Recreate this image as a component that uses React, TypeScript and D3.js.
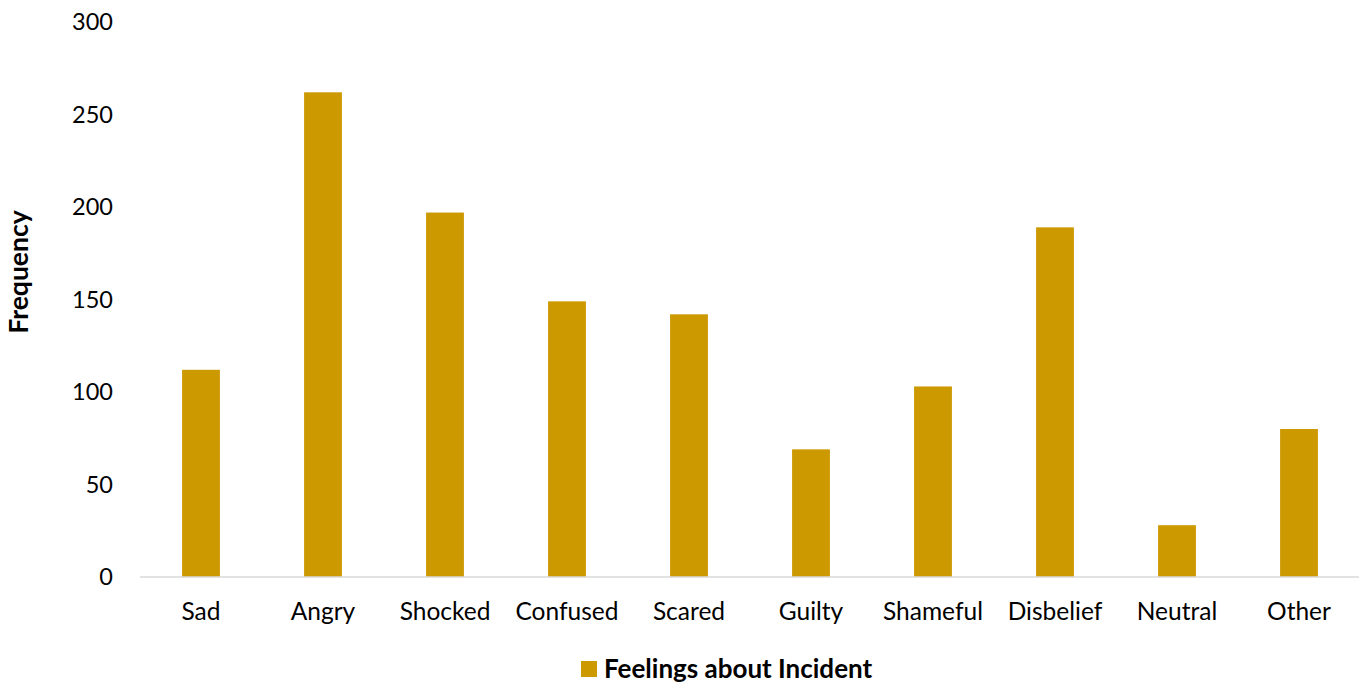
import React from "react";
import * as d3 from "d3";

const categories = ["Sad", "Angry", "Shocked", "Confused", "Scared", "Guilty", "Shameful", "Disbelief", "Neutral", "Other"];
const frequencies = [112, 262, 197, 149, 142, 69, 103, 189, 28, 80];
const yTicks = [0, 50, 100, 150, 200, 250, 300];
const seriesName = "Feelings about Incident";
const axisTitle = "Frequency";

const W = 1359;
const H = 684;
const FONT = "Lato, 'Open Sans', sans-serif";
const BAR = "#CC9900";

export default function App() {
  const x = d3.scaleBand<string>().domain(categories).range([140, 1360]).paddingInner(0.69).paddingOuter(0.345);
  const y = d3.scaleLinear().domain([0, 300]).range([577, 22]);

  return (
    <svg width={W} height={H} style={{ position: "absolute", left: 0, top: 0, background: "#fff" }}>
      {yTicks.map((t) => (
        <text key={t} x={113} y={y(t)} dy="0.36em" textAnchor="end" fontFamily={FONT} fontSize={23.5} fill="#000">
          {t}
        </text>
      ))}
      {categories.map((c, i) => (
        <rect key={c} x={x(c)} y={y(frequencies[i])} width={x.bandwidth()} height={y(0) - y(frequencies[i])} fill={BAR} />
      ))}
      <line x1={140} x2={1360} y1={y(0)} y2={y(0)} stroke="#d9d9d9" strokeWidth={1.5} />
      {categories.map((c) => (
        <text key={c} x={(x(c) ?? 0) + x.bandwidth() / 2} y={620} textAnchor="middle" fontFamily={FONT} fontSize={24.5} fill="#000">
          {c}
        </text>
      ))}
      <text transform={`translate(28,272) rotate(-90)`} textAnchor="middle" fontFamily={FONT} fontWeight="bold" fontSize={26.5} fill="#000">
        {axisTitle}
      </text>
      <rect x={581} y={661} width={16} height={16} fill={BAR} />
      <text x={604} y={669} dy="0.36em" fontFamily={FONT} fontWeight="bold" fontSize={26} fill="#000">
        {seriesName}
      </text>
    </svg>
  );
}
